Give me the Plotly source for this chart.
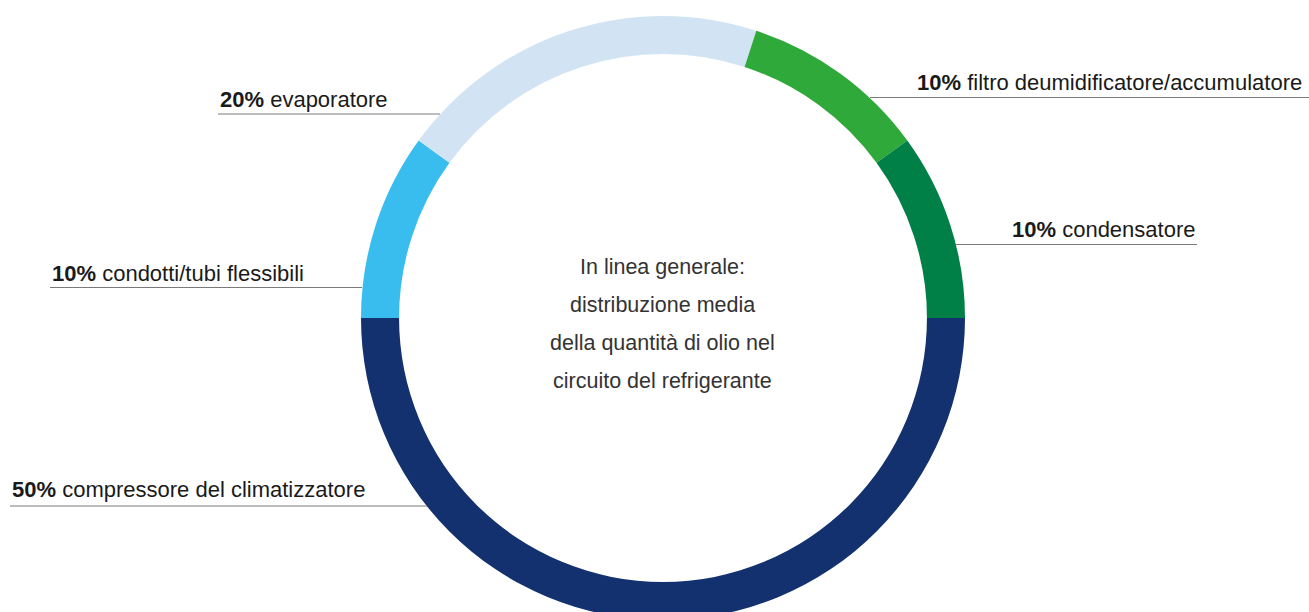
import plotly.graph_objects as go

# ---- data ----
categories = ["compressore del climatizzatore", "condotti/tubi flessibili", "evaporatore",
              "filtro deumidificatore/accumulatore", "condensatore"]
values = [50, 10, 20, 10, 10]
colors = ["#12316e", "#38bdee", "#d2e4f3", "#2fa93a", "#007f47"]
center_lines = ["In linea generale:", "distribuzione media",
                "della quantità di olio nel", "circuito del refrigerante"]

W, H = 1309, 620
FONT = "Liberation Sans, Arial, sans-serif"

def px(x):
    return x / W

def py(y):
    return 1 - y / H

fig = go.Figure(go.Pie(
    labels=categories, values=values, sort=False, direction="clockwise", rotation=90,
    hole=0.874, marker=dict(colors=colors, line=dict(width=0)),
    textinfo="none", hoverinfo="skip", showlegend=False,
    domain=dict(x=[px(361), px(965)], y=[py(620), py(16)]),
))

# label layout: (text-left x, text cap-centre y, line x0, line x1, line y)
label_pos = [
    (10, 488, 10, 427, 506),
    (50, 272, 50, 362, 287.5),
    (218, 99, 218, 440, 114),
    (915, 81, 870, 1309, 97.5),
    (1010, 228, 956, 1197, 244.5),
]
for cat, val, (tx, ty, x0, x1, ly) in zip(categories, values, label_pos):
    fig.add_annotation(x=px(tx), y=py(ty + 1), xref="paper", yref="paper",
                       xanchor="left", yanchor="middle", showarrow=False,
                       text=f"<b>{val}%</b> {cat}",
                       font=dict(family=FONT, size=22, color="#1a1a1a"))
    fig.add_shape(type="line", xref="paper", yref="paper",
                  x0=px(x0), x1=px(x1), y0=py(ly), y1=py(ly),
                  line=dict(color="#7a7a7a", width=1))

for i, line in enumerate(center_lines):
    fig.add_annotation(x=px(662), y=py(266 + i * 38 + 1), xref="paper", yref="paper",
                       xanchor="center", yanchor="middle", showarrow=False,
                       text=line, font=dict(family=FONT, size=21.5, color="#333333"))

fig.update_layout(width=W, height=H, margin=dict(l=0, r=0, t=0, b=0),
                  paper_bgcolor="white", plot_bgcolor="white")

fig.write_html("out.html", config={"displayModeBar": False},
               post_script="document.body.style.margin='0';document.body.style.overflow='hidden';")
